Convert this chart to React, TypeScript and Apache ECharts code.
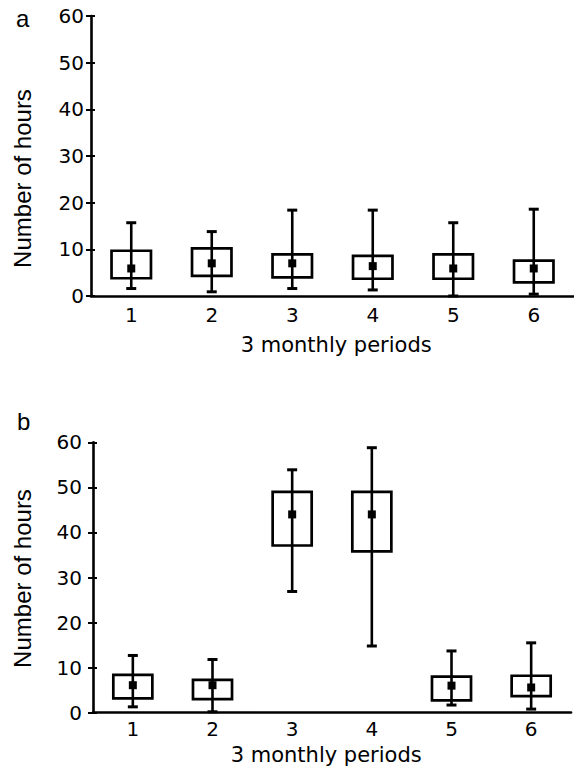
import React, { useEffect, useRef } from "react";
import * as echarts from "echarts";

const periods = ["1", "2", "3", "4", "5", "6"];
const yTicks = [0, 10, 20, 30, 40, 50, 60];

// panel a
const lowA = [1.6, 0.9, 1.6, 1.3, 0, 0.4];
const q1A = [3.8, 4.3, 4.0, 3.7, 3.7, 2.9];
const medA = [5.9, 7.0, 7.0, 6.4, 5.9, 5.9];
const q3A = [9.7, 10.2, 8.9, 8.6, 8.9, 7.6];
const highA = [15.7, 13.8, 18.4, 18.4, 15.7, 18.6];

// panel b
const lowB = [1.3, 0.2, 26.9, 14.8, 1.7, 0.8];
const q1B = [3.2, 3.0, 37.1, 35.8, 2.75, 3.7];
const medB = [6.1, 6.1, 44.0, 44.0, 6.0, 5.6];
const q3B = [8.4, 7.3, 49.0, 49.0, 8.0, 8.2];
const highB = [12.7, 11.8, 53.9, 58.8, 13.7, 15.5];

const build = (lo: number[], q1: number[], med: number[], q3: number[], hi: number[]) =>
  periods.map((_, i) => [i, lo[i], q1[i], med[i], q3[i], hi[i]]);

const renderBox = (params: any, api: any) => {
  const x = api.value(0);
  const lo = api.coord([x, api.value(1)]);
  const q1 = api.coord([x, api.value(2)]);
  const med = api.coord([x, api.value(3)]);
  const q3 = api.coord([x, api.value(4)]);
  const hi = api.coord([x, api.value(5)]);
  const band = api.size([1, 0])[0];
  const bw = band * 0.49;
  const cw = 10;
  const ms = 8;
  const cx = med[0];
  const stroke = { stroke: "#000", lineWidth: 2.6, fill: "none" };
  return {
    type: "group",
    children: [
      {
        type: "rect",
        shape: { x: cx - bw / 2, y: q3[1], width: bw, height: q1[1] - q3[1] },
        style: { fill: "none", stroke: "#000", lineWidth: 2.7 },
      },
      { type: "line", shape: { x1: cx, y1: hi[1], x2: cx, y2: lo[1] }, style: stroke },
      { type: "line", shape: { x1: cx - cw / 2, y1: hi[1], x2: cx + cw / 2, y2: hi[1] }, style: { ...stroke, lineWidth: 3 } },
      { type: "line", shape: { x1: cx - cw / 2, y1: lo[1], x2: cx + cw / 2, y2: lo[1] }, style: { ...stroke, lineWidth: 3 } },
      {
        type: "rect",
        shape: { x: cx - ms / 2, y: med[1] - ms / 2, width: ms, height: ms },
        style: { fill: "#000", stroke: "none" },
      },
    ],
  };
};

const tickFont = { fontFamily: "DejaVu Sans", fontSize: 20, color: "#000" };

const makeX = (gridIndex: number, margin: number) => ({
  type: "category",
  gridIndex,
  data: periods,
  boundaryGap: true,
  axisLine: { show: true, lineStyle: { color: "#000", width: 2.6 } },
  axisTick: { show: false },
  axisLabel: { ...tickFont, margin, interval: 0 },
  splitLine: { show: false },
});

const makeY = (gridIndex: number, margin: number) => ({
  type: "value",
  gridIndex,
  min: 0,
  max: 60,
  interval: 10,
  axisLine: { show: true, lineStyle: { color: "#000", width: 2.6 } },
  axisTick: { show: true, length: 5, lineStyle: { color: "#000", width: 2 } },
  axisLabel: { ...tickFont, margin, formatter: (v: number) => (yTicks.includes(v) ? String(v) : "") },
  splitLine: { show: false },
});

const makeYInner = (gridIndex: number) => ({
  type: "value",
  gridIndex,
  min: 0,
  max: 60,
  interval: 10,
  position: "left",
  axisLine: { show: false },
  axisTick: { show: true, inside: true, length: 4, lineStyle: { color: "#000", width: 2 } },
  axisLabel: { show: false },
  splitLine: { show: false },
});

export default function App() {
  const ref = useRef<HTMLDivElement>(null);
  useEffect(() => {
    if (!ref.current) return;
    const chart = echarts.init(ref.current, undefined, { renderer: "svg" });
    chart.setOption({
      animation: false,
      backgroundColor: "#fff",
      grid: [
        { left: 91, top: 16, width: 490, height: 280 },
        { left: 93, top: 442.3, width: 478, height: 270.4 },
      ],
      xAxis: [makeX(0, 8.5), makeX(1, 6.5)],
      yAxis: [makeY(0, 7), makeY(1, 11), makeYInner(0), makeYInner(1)],
      series: [
        {
          type: "custom",
          xAxisIndex: 0,
          yAxisIndex: 0,
          renderItem: renderBox,
          encode: { x: 0, y: [1, 2, 3, 4, 5] },
          data: build(lowA, q1A, medA, q3A, highA),
          clip: false,
        },
        {
          type: "custom",
          xAxisIndex: 1,
          yAxisIndex: 1,
          renderItem: renderBox,
          encode: { x: 0, y: [1, 2, 3, 4, 5] },
          data: build(lowB, q1B, medB, q3B, highB),
          clip: false,
        },
      ],
      graphic: [
        { type: "text", x: 16, y: 18, style: { text: "a", font: "24px 'Liberation Sans'", fill: "#000", align: "left", verticalAlign: "middle" } },
        { type: "text", x: 17, y: 421.6, style: { text: "b", font: "24px 'Liberation Sans'", fill: "#000", align: "left", verticalAlign: "middle" } },
        {
          type: "text",
          x: 22.5,
          y: 178.5,
          rotation: Math.PI / 2,
          style: { text: "Number of hours", font: "24px 'Liberation Sans'", fill: "#000", align: "center", verticalAlign: "middle" },
        },
        {
          type: "text",
          x: 22.5,
          y: 578.5,
          rotation: Math.PI / 2,
          style: { text: "Number of hours", font: "24px 'Liberation Sans'", fill: "#000", align: "center", verticalAlign: "middle" },
        },
        {
          type: "text",
          x: 336.2,
          y: 344.6,
          style: { text: "3 monthly periods", font: "21px 'DejaVu Sans'", fill: "#000", align: "center", verticalAlign: "middle" },
        },
        {
          type: "text",
          x: 326.2,
          y: 755,
          style: { text: "3 monthly periods", font: "21px 'DejaVu Sans'", fill: "#000", align: "center", verticalAlign: "middle" },
        },
      ],
    });
    return () => chart.dispose();
  }, []);
  return <div ref={ref} style={{ position: "absolute", left: 0, top: 0, width: 574, height: 767 }} />;
}
